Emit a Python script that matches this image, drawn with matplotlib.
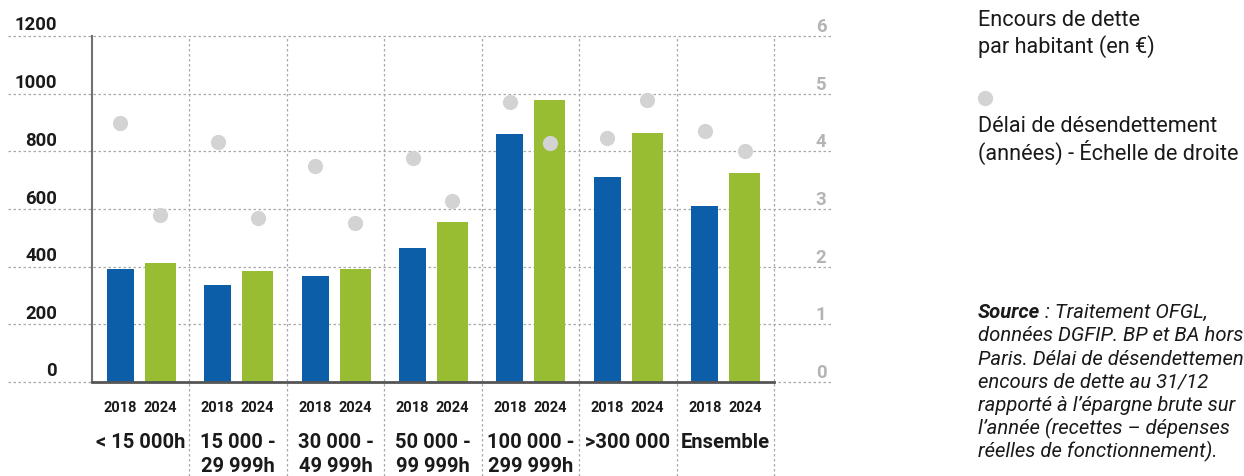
import matplotlib
matplotlib.use("Agg")
import matplotlib.pyplot as plt
from matplotlib.lines import Line2D
import numpy as np

# ---- data ----
categories = ["< 15 000h", "15 000 -\n29 999h", "30 000 -\n49 999h", "50 000 -\n99 999h",
              "100 000 -\n299 999h", ">300 000", "Ensemble"]
years = ["2018", "2024"]
debt_2018 = [392, 336, 368, 465, 860, 711, 610]
debt_2024 = [413, 385, 392, 555, 978, 864, 725]
delay_2018 = [4.49, 4.16, 3.75, 3.88, 4.86, 4.23, 4.36]
delay_2024 = [2.89, 2.84, 2.76, 3.14, 4.14, 4.89, 4.01]
left_ticks = [0, 200, 400, 600, 800, 1000, 1200]
right_ticks = [0, 1, 2, 3, 4, 5, 6]
legend_debt = ["Encours de dette", "par habitant (en €)"]
legend_delay = ["Délai de désendettement", "(années) - Échelle de droite"]
source_rest = [" : Traitement OFGL,",
               "données DGFIP. BP et BA hors",
               "Paris. Délai de désendettement :",
               "encours de dette au 31/12",
               "rapporté à l’épargne brute sur",
               "l’année (recettes – dépenses",
               "réelles de fonctionnement)."]

BLUE = "#0d5ea9"
GREEN = "#98bd33"
DOT = "#d3d3d3"
GRID = "#a8a8a8"
TXT = "#1a1a1a"
FONT = "Roboto"

W, H = 1244, 476
fig = plt.figure(figsize=(W / 100, H / 100), dpi=100)

def fx(x):
    return x / W

def fy(y):
    return 1 - y / H

AX_L, AX_R, AX_T, AX_B = 92, 774, 36, 382
ax = fig.add_axes([fx(AX_L), fy(AX_B), (AX_R - AX_L) / W, (AX_B - AX_T) / H])
ax.set_xlim(0, 7)
ax.set_ylim(0, 1200)
for s in ["top", "right"]:
    ax.spines[s].set_visible(False)
ax.spines["left"].set_color("#707070")
ax.spines["left"].set_linewidth(1.5)
ax.spines["bottom"].set_color("#555555")
ax.spines["bottom"].set_linewidth(2)
ax.set_xticks([])
ax.set_yticks([])

# gridlines
ax_w = AX_R - AX_L
ax_h = AX_B - AX_T
for v in left_ticks:
    ax.axhline(v, xmin=(8 - AX_L) / ax_w, xmax=(833 - AX_L) / ax_w, color=GRID,
               lw=0.9, ls=(0, (2, 2)), clip_on=False, zorder=0)
for k in range(1, 8):
    ax.axvline(k, ymin=-(H - AX_B) / ax_h, ymax=1, color=GRID, lw=0.9,
               ls=(0, (2, 2)), clip_on=False, zorder=0)

x = np.arange(len(categories)) + 0.5
off_b, off_g = -0.21, 0.20
ax.bar(x + off_b, debt_2018, width=0.277, color=BLUE, zorder=2)
ax.bar(x + off_g, debt_2024, width=0.318, color=GREEN, zorder=2)

ax2 = ax.twinx()
ax2.set_ylim(0, 6)
ax2.set_xlim(0, 7)
ax2.axis("off")
ax2.scatter(x + off_b, delay_2018, s=120, color=DOT, zorder=3, linewidths=0)
ax2.scatter(x + off_g, delay_2024, s=120, color=DOT, zorder=3, linewidths=0)

# tick labels (left / right)
for v in left_ticks:
    ypx = AX_B - v / 1200 * ax_h
    fig.text(fx(57), fy(ypx - 5.5), str(v), ha="right", va="baseline",
             fontsize=13.3, fontweight="bold", color=TXT, family=FONT)
for v in right_ticks:
    ypx = AX_B - v / 6 * ax_h
    fig.text(fx(821), fy(ypx - 4), str(v), ha="center", va="baseline",
             fontsize=13.3, fontweight="bold", color="#b4b4b4", family=FONT)

# year + category labels
def to_px(xd):
    return AX_L + xd / 7 * ax_w

for i, cat in enumerate(categories):
    fig.text(fx(to_px(x[i] + off_b)), fy(411.5), years[0], ha="center", va="baseline",
             fontsize=10.5, fontweight="bold", color=TXT, family=FONT)
    fig.text(fx(to_px(x[i] + off_g)), fy(411.5), years[1], ha="center", va="baseline",
             fontsize=10.5, fontweight="bold", color=TXT, family=FONT)
    for j, line in enumerate(cat.split("\n")):
        fig.text(fx(to_px(x[i])), fy(448.5 + 24 * j), line, ha="center", va="baseline",
                 fontsize=14.5, fontweight="bold", color=TXT, family=FONT)

# legend
for j, line in enumerate(legend_debt):
    fig.text(fx(978), fy(26 + 27 * j), line, ha="left", va="baseline",
             fontsize=15.6, fontweight="normal", color=TXT, family=FONT)
fig.add_artist(Line2D([fx(985)], [fy(98)], marker="o", markersize=11, color=DOT,
                      markeredgewidth=0, linestyle="none", transform=fig.transFigure))
for j, line in enumerate(legend_delay):
    fig.text(fx(978), fy(132.5 + 27 * j), line, ha="left", va="baseline",
             fontsize=15.6, fontweight="normal", color=TXT, family=FONT)

# source note
SRC_FS = 14.6
t = fig.text(fx(978), fy(318), "Source", ha="left", va="baseline", fontsize=SRC_FS,
             fontweight="bold", style="italic", color=TXT, family=FONT)
fig.canvas.draw()
r = fig.canvas.get_renderer()
bb = t.get_window_extent(renderer=r)
fig.text(bb.x1 / W, fy(318), source_rest[0], ha="left", va="baseline", fontsize=SRC_FS,
         fontweight="normal", style="italic", color=TXT, family=FONT)
for j, line in enumerate(source_rest[1:]):
    fig.text(fx(978), fy(318 + 23.3 * (j + 1)), line, ha="left", va="baseline",
             fontsize=SRC_FS, fontweight="normal", style="italic", color=TXT, family=FONT)

fig.savefig("out.png", dpi=100)
